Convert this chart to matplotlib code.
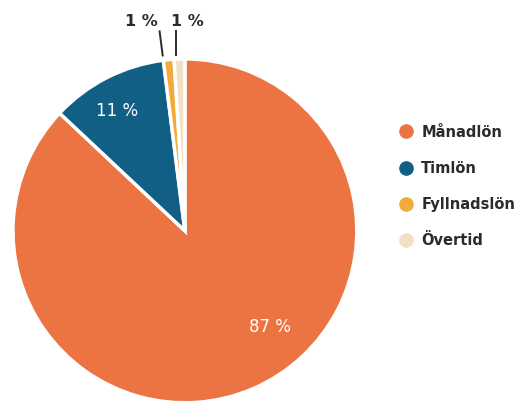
import numpy as np
import matplotlib
matplotlib.use("Agg")
import matplotlib.pyplot as plt

labels = ["Månadlön", "Timlön", "Fyllnadslön", "Övertid"]
shares = [87, 11, 1, 1]
pct_text = ["87 %", "11 %", "1 %", "1 %"]
colors = ["#EC7342", "#125F86", "#F2AA3A", "#F3E0C4"]

plt.rcParams["font.family"] = ["DejaVu Sans"]
dark = "#2b2b2b"

fig = plt.figure(figsize=(5.26, 4.05), dpi=100)
ax = fig.add_axes([0.018, -0.003, 0.667, 0.866])

wedges, _ = ax.pie(shares, colors=colors, startangle=90, counterclock=False,
                   wedgeprops=dict(edgecolor="white", linewidth=2.5))
ax.set_aspect("equal")
ax.set_xlim(-1.02, 1.02)
ax.set_ylim(-1.02, 1.02)

# labels inside the two big slices (angle clockwise from top, radius)
inside = {0: (138.5, 0.75), 1: (-29.5, 0.80)}
for i, (ang, r) in inside.items():
    a = np.deg2rad(90 - ang)
    ax.text(r * np.cos(a), r * np.sin(a), pct_text[i], color="white",
            fontsize=12, ha="center", va="center")

# small slices: labels above with leader lines
for i, ha, dx in [(2, "right", -0.035), (3, "left", -0.022)]:
    w = wedges[i]
    mid = np.deg2rad((w.theta1 + w.theta2) / 2)
    x0 = np.cos(mid) + dx
    x1 = x0 - 0.018 if i == 2 else x0
    ax.plot([x0, x1], [1.02, 1.16], color=dark, lw=1.4, clip_on=False)
    ax.text(x1 + (-0.01 if i == 2 else -0.025), 1.215, pct_text[i],
            ha=ha, va="center", fontsize=11.5, fontweight="bold",
            color=dark, clip_on=False)

handles = [plt.Line2D([], [], marker="o", ls="", markersize=9.5,
                      markerfacecolor=c, markeredgecolor=c) for c in colors]
fig.legend(handles, labels, loc="center left", bbox_to_anchor=(0.73, 0.54),
           frameon=False, handletextpad=0.45, labelspacing=1.45,
           handlelength=1.2, prop=dict(weight="bold", size=10.5),
           labelcolor=dark)

fig.savefig("out.png", dpi=100)
